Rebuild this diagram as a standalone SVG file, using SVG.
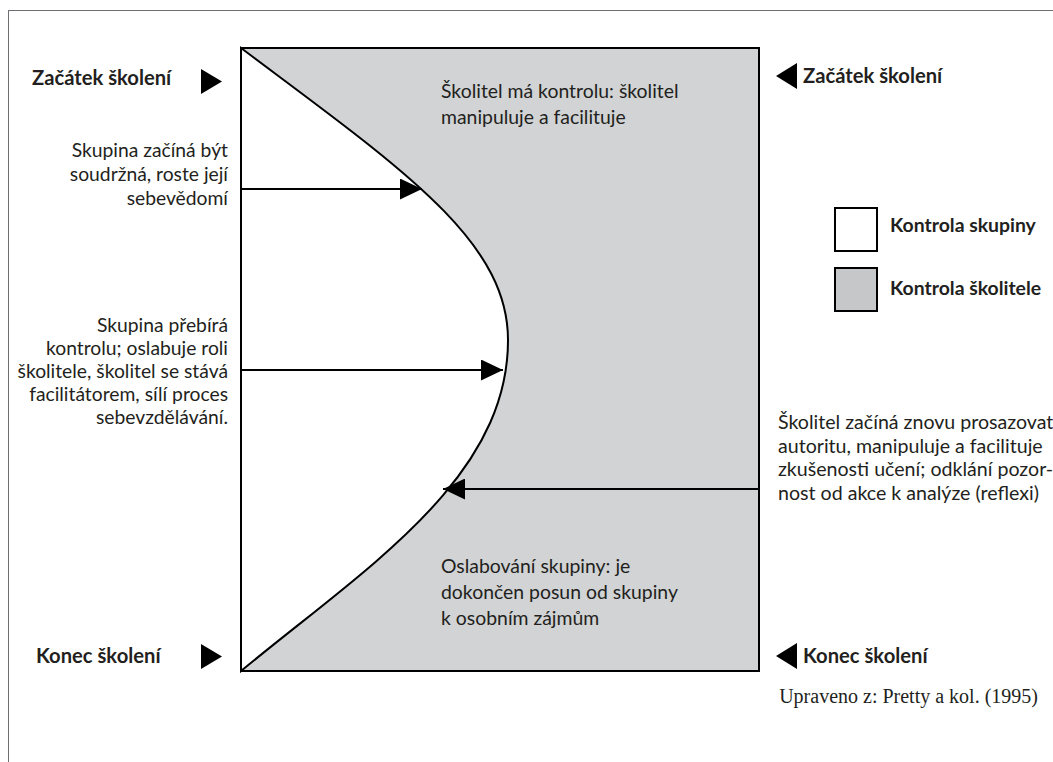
<svg xmlns="http://www.w3.org/2000/svg" width="1053" height="762" viewBox="0 0 1053 762">
<style>
.t{font-family:Lato,"Liberation Sans",Arial,sans-serif;font-size:19.4px;fill:#231f20}
.l{font-size:19.3px;text-anchor:end}
.r{font-size:19.6px}
.b{font-family:Lato,"Liberation Sans",Arial,sans-serif;font-weight:bold;font-size:20.2px;fill:#231f20}
.lg{font-size:19.4px}
.cr{font-family:"Liberation Serif","Times New Roman",serif;font-size:20px;fill:#231f20;text-anchor:end}
.tri{fill:#000}
.ln{stroke:#000;stroke-width:1.8;fill:none}
</style>
<defs>
<marker id="ah" markerUnits="userSpaceOnUse" markerWidth="22" markerHeight="21" refX="22" refY="10.5" orient="auto">
<path d="M0,0 L22,10.5 L0,21 Z" fill="#000"/>
</marker>
</defs>
<rect width="1053" height="762" fill="#fff"/>
<rect x="8.5" y="10.5" width="1100" height="800" fill="none" stroke="#6d6e71" stroke-width="1"/>

<g id="chart">
<rect x="241" y="48" width="518" height="623" fill="#d1d3d4" stroke="#000" stroke-width="2"/>
<path d="M241,48 C401,168 508,240 508,340 C508,480 364,569 241,671 Z" fill="#fff" stroke="#000" stroke-width="2"/>
<path d="M241,48 L241,671" stroke="#000" stroke-width="2"/>
</g>

<g id="connectors">
<line class="ln" x1="241" y1="189" x2="422" y2="189" marker-end="url(#ah)"/>
<line class="ln" x1="241" y1="370" x2="503" y2="370" marker-end="url(#ah)"/>
<line class="ln" x1="759" y1="489" x2="443" y2="489" marker-end="url(#ah)"/>
</g>

<g id="start-left">
<text class="b" x="32" y="85">Začátek školení</text>
<path class="tri" d="M201,69 L222,81.5 L201,94 Z"/>
</g>
<g id="start-right">
<path class="tri" d="M797,63 L776,76 L797,89 Z"/>
<text class="b" x="803" y="83">Začátek školení</text>
</g>
<g id="end-left">
<text class="b" x="36" y="663">Konec školení</text>
<path class="tri" d="M201,644 L222,656.5 L201,669 Z"/>
</g>
<g id="end-right">
<path class="tri" d="M797,643 L776,656 L797,669 Z"/>
<text class="b" x="803" y="663">Konec školení</text>
</g>

<g id="trainer-control">
<text class="t" x="441" y="98">Školitel má kontrolu: školitel</text>
<text class="t" x="441" y="124">manipuluje a facilituje</text>
</g>
<g id="group-weakening">
<text class="t" x="441" y="573">Oslabování skupiny: je</text>
<text class="t" x="441" y="599">dokončen posun od skupiny</text>
<text class="t" x="441" y="625">k osobním zájmům</text>
</g>
<g id="cohesion">
<text class="t l" x="228" y="157">Skupina začíná být</text>
<text class="t l" x="228" y="181">soudržná, roste její</text>
<text class="t l" x="228" y="205">sebevědomí</text>
</g>
<g id="takeover">
<text class="t l" x="228" y="332">Skupina přebírá</text>
<text class="t l" x="228" y="355">kontrolu; oslabuje roli</text>
<text class="t l" x="228" y="378">školitele, školitel se stává</text>
<text class="t l" x="228" y="401">facilitátorem, sílí proces</text>
<text class="t l" x="228" y="424">sebevzdělávání.</text>
</g>
<g id="reassert">
<text class="t r" x="778" y="429">Školitel začíná znovu prosazovat</text>
<text class="t r" x="778" y="453">autoritu, manipuluje a facilituje</text>
<text class="t r" x="778" y="476">zkušenosti učení; odklání pozor-</text>
<text class="t r" x="778" y="500">nost od akce k analýze (reflexi)</text>
</g>

<g id="legend-group">
<rect x="835" y="208" width="42" height="43" fill="#fff" stroke="#000" stroke-width="2"/>
<text class="b lg" x="890" y="232">Kontrola skupiny</text>
</g>
<g id="legend-trainer">
<rect x="835" y="268" width="42" height="43" fill="#c6c7c9" stroke="#000" stroke-width="2"/>
<text class="b lg" x="890" y="295">Kontrola školitele</text>
</g>

<text class="cr" x="1038" y="703">Upraveno z: Pretty a kol. (1995)</text>
</svg>
